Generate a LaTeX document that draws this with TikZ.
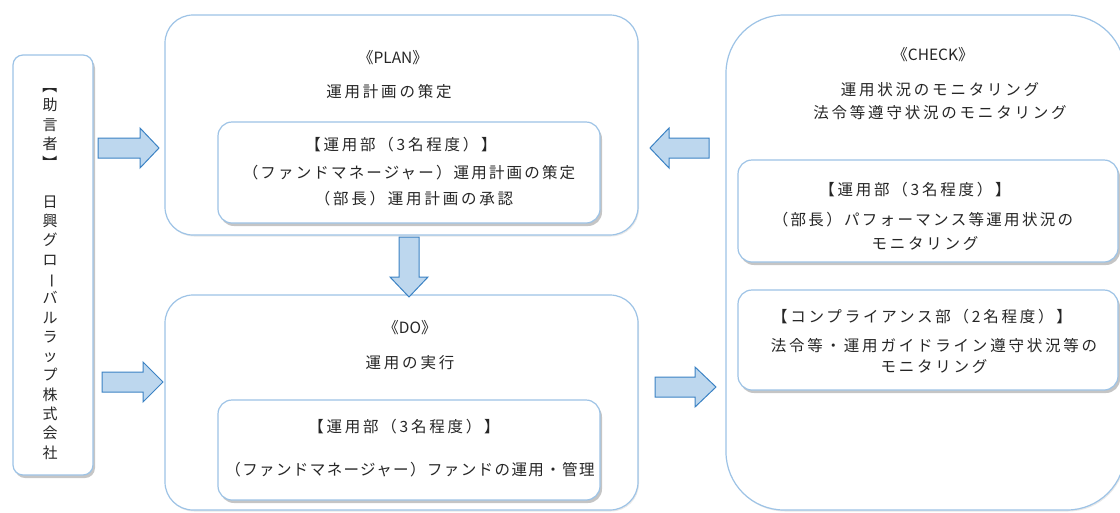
\documentclass[tikz,border=0pt]{standalone}
\usepackage{fontspec}
\setmainfont{Noto Sans CJK JP}[LetterSpace=18]
\newfontfamily\vfont{Noto Sans CJK JP}
\newfontfamily\latfont{Noto Sans CJK JP}
\usetikzlibrary{shadows}
\definecolor{boxline}{HTML}{9DC3E6}
\definecolor{arrfill}{HTML}{BDD7EE}
\definecolor{arrline}{HTML}{3B82C4}
\definecolor{txt}{HTML}{262626}
\newcommand{\lat}[1]{{\latfont #1}}
\newcommand{\tight}[2]{{\addfontfeatures{LetterSpace=#1}#2}}
\tikzset{
  outerbox/.style={draw=boxline, line width=1.2pt, fill=white, rounded corners=28pt,
    drop shadow={shadow xshift=1pt, shadow yshift=-1.5pt, opacity=0.18}},
  innerbox/.style={draw=boxline, line width=1.2pt, fill=white, rounded corners=14pt,
    drop shadow={shadow xshift=2pt, shadow yshift=-3pt, opacity=0.45}},
  lbl/.style={text=txt, font=\fontsize{15.5}{18}\selectfont, inner sep=0pt, anchor=center},
  blockarrow/.style={draw=arrline, fill=arrfill, line width=1pt, line join=miter},
}
\begin{document}
\begin{tikzpicture}[x=1pt,y=-1pt]
\useasboundingbox (0,0) rectangle (1120,512);
\clip (0,0) rectangle (1120,512);
% left box
\node[innerbox, rounded corners=10pt, minimum width=80pt, minimum height=420pt] (adv) at (53,265) {};
\node[text=txt, inner sep=0pt, align=center, font=\vfont\fontsize{15}{19.3}\selectfont, anchor=north] (advtxt) at (50,78)
 {\rotatebox[origin=c]{-90}{【}\\助\\言\\者\\\rotatebox[origin=c]{-90}{】}\\\mbox{}\\日\\興\\グ\\ロ\\\rotatebox[origin=c]{-90}{ー}\\バ\\ル\\ラ\\ッ\\プ\\株\\式\\会\\社};
% PLAN
\node[outerbox, minimum width=473pt, minimum height=220pt] (plan) at (401.5,125) {};
\node[lbl] (plant) at (393,58) {《\lat{PLAN}》};
\node[lbl] (plans) at (389,92) {運用計画の策定};
\node[innerbox, minimum width=382pt, minimum height=101pt] (planin) at (409,172.5) {};
\node[lbl] (plan1) at (401,145) {【運用部（3名程度）】};
\node[lbl] (plan2) at (409,173) {\tight{14}{（ファンドマネージャー）運用計画の策定}};
\node[lbl] (plan3) at (414,199) {（部長）運用計画の承認};
% DO
\node[outerbox, minimum width=473pt, minimum height=215pt] (do) at (401.5,402.5) {};
\node[lbl] (dot) at (410,328) {《\lat{DO}》};
\node[lbl] (dos) at (410,363) {運用の実行};
\node[innerbox, minimum width=382pt, minimum height=100pt] (doin) at (409,450) {};
\node[lbl] (do1) at (404,427) {【運用部（3名程度）】};
\node[lbl] (do2) at (410,470) {\tight{9}{（ファンドマネージャー）ファンドの運用・管理}};
% CHECK
\node[outerbox, rounded corners=58pt, minimum width=399pt, minimum height=495pt] (chk) at (925.5,262.5) {};
\node[lbl] (chkt) at (933,55) {《\lat{CHECK}》};
\node[lbl] (chks1) at (940,90) {運用状況のモニタリング};
\node[lbl] (chks2) at (940,113) {法令等遵守状況のモニタリング};
\node[innerbox, minimum width=380pt, minimum height=102pt] (chkin1) at (928,211) {};
\node[lbl] (c11) at (915,190) {【運用部（3名程度）】};
\node[lbl] (c12) at (923,220) {\tight{15}{（部長）パフォーマンス等運用状況の}};
\node[lbl] (c13) at (925,244) {モニタリング};
\node[innerbox, minimum width=380pt, minimum height=100pt] (chkin2) at (928,340) {};
\node[lbl] (c21) at (922,317) {【コンプライアンス部（2名程度）】};
\node[lbl] (c22) at (934,346) {法令等・運用ガイドライン遵守状況等の};
\node[lbl] (c23) at (934,367) {モニタリング};
% arrows
\draw[blockarrow] (98,138) -- (140,138) -- (140,128) -- (159,148) -- (140,168) -- (140,158) -- (98,158) -- cycle;
\draw[blockarrow] (102,372) -- (143,372) -- (143,362) -- (163,382) -- (143,402) -- (143,392) -- (102,392) -- cycle;
\draw[blockarrow] (709,138) -- (669,138) -- (669,128) -- (650,148) -- (669,168) -- (669,158) -- (709,158) -- cycle;
\draw[blockarrow] (655,377) -- (695,377) -- (695,367) -- (716,387) -- (695,407) -- (695,397) -- (655,397) -- cycle;
\draw[blockarrow] (399,237) -- (419,237) -- (419,277) -- (428,277) -- (409,297) -- (390,277) -- (399,277) -- cycle;
\end{tikzpicture}
\end{document}
